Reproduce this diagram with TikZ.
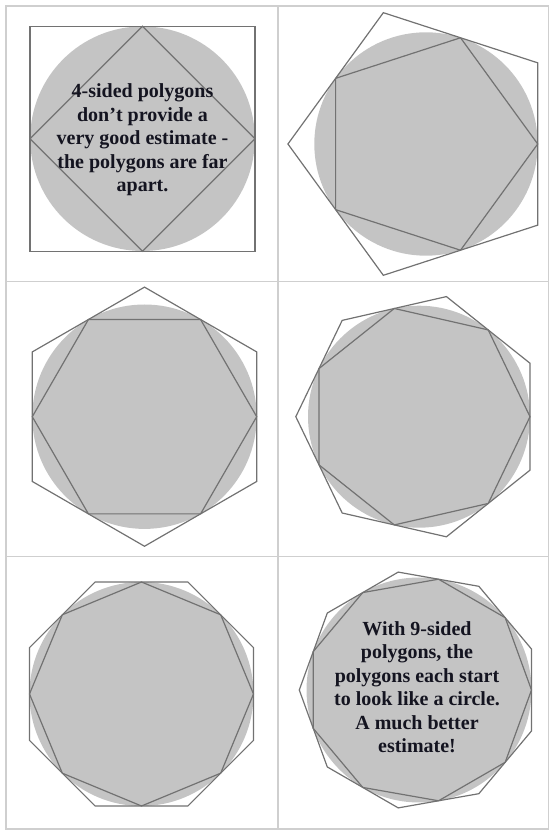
\documentclass[tikz,border=0pt]{standalone}
\usepackage{fontspec}
\setmainfont{Liberation Serif}
\usetikzlibrary{calc}
\definecolor{gridc}{HTML}{CFCFCF}
\definecolor{diskc}{HTML}{C4C4C4}
\definecolor{polyc}{HTML}{727272}
\definecolor{txtc}{HTML}{141420}
\tikzset{
  gridline/.style={gridc,line width=1.5pt},
  polyline/.style={polyc,line width=1.2pt,line join=miter},
  disk/.style={fill=diskc},
  txt/.style={font=\fontsize{20}{23.5}\selectfont\bfseries,align=center,text=txtc,inner sep=0pt}
}
% center x, center y, n, start angle, radius (pt)
\newcommand\myregpoly[5]{%
  \pgfmathtruncatemacro\mynm{#3-1}%
  \draw[polyline] ($(#1,#2)+(#4:#5pt)$)
    \foreach \k in {1,...,\mynm}{ -- ($(#1,#2)+({#4+360*\k/#3}:#5pt)$)} -- cycle;
}
\begin{document}
\begin{tikzpicture}[x=1pt,y=1pt]
\useasboundingbox (0,0) rectangle (549,830);
% grid
\draw[gridline] (6,1) rectangle (548.5,824);
\draw[gridline] (278,1) -- (278,824);
\draw[gridline] (6,548.5) -- (548.5,548.5);
\draw[gridline] (6,273.5) -- (548.5,273.5);
% cell 1: squares
\fill[disk] (142.5,691.3) circle[radius=112.3pt];
\draw[polyline] (30,578.8) rectangle (255,803.8);
\myregpoly{142.5}{691.3}{4}{0}{112.5}
% cell 2: pentagons
\fill[disk] (426,686) circle[radius=111.7pt];
\myregpoly{426}{686}{5}{0}{111.7}
\myregpoly{426}{686}{5}{36}{138.07}
% cell 3: hexagons
\fill[disk] (144.5,413.3) circle[radius=112.2pt];
\myregpoly{144.5}{413.3}{6}{0}{112.2}
\myregpoly{144.5}{413.3}{6}{30}{129.56}
% cell 4: heptagons
\fill[disk] (419,413.3) circle[radius=111pt];
\myregpoly{419}{413.3}{7}{0}{111}
\myregpoly{419}{413.3}{7}{25.714}{123.2}
% cell 5: octagons
\fill[disk] (141.5,136) circle[radius=112pt];
\myregpoly{141.5}{136}{8}{0}{112}
\myregpoly{141.5}{136}{8}{22.5}{121.23}
% cell 6: nonagons
\fill[disk] (419,140) circle[radius=112.5pt];
\myregpoly{419}{140}{9}{0}{112.5}
\myregpoly{419}{140}{9}{20}{119.72}
% texts (anchor base = baseline of last line)
\node[txt,anchor=base] (t1) at (142.5,638) {4-sided polygons\\don't provide a\\very good estimate -\\the polygons are far\\apart.};
\node[txt,anchor=base] (t6) at (417,77) {With 9-sided\\polygons, the\\polygons each start\\to look like a circle.\\A much better\\estimate!};
\end{tikzpicture}
\end{document}
